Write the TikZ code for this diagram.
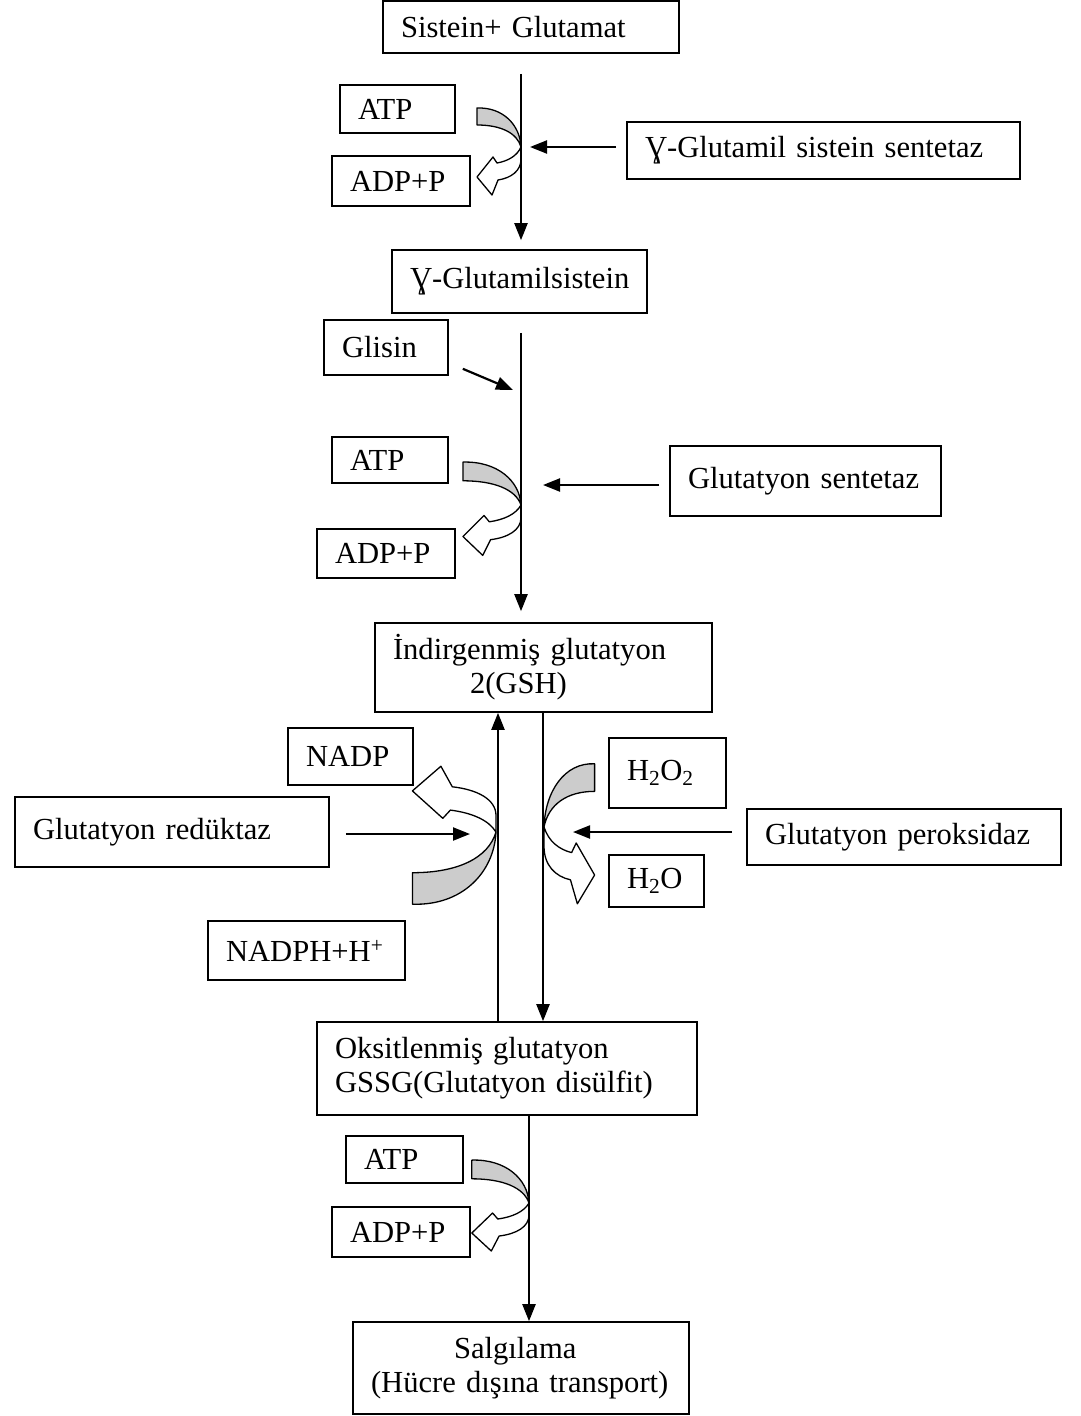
\documentclass[tikz,border=0pt]{standalone}
\usepackage{fontspec}
\setmainfont{Liberation Serif}
\usepackage{tikz}
\usetikzlibrary{arrows.meta}
\exhyphenpenalty=10000

\tikzset{
  pics/turn/.style 2 args={code={
    \filldraw[ribbon,yscale=#1] (-44,-39) .. controls (-18,-40) and (-1,-22) .. (0,0)
      .. controls (-4,-14) and (-20,-22) .. (-44,-22) -- cycle;
    \filldraw[ribbon,fill=white,yscale=#2] (0,0) .. controls (-4,9) and (-13,14) .. (-24,16)
      -- (-28,10) -- (-44,30) -- (-29,48) -- (-23,33)
      .. controls (-10,31) and (0,24) .. (0,12) -- cycle;
  }}
}

\begin{document}
\begin{tikzpicture}[x=1pt,y=-1pt,
  font=\fontsize{30.6}{34}\selectfont,
  box/.style={draw,line width=1.6pt,inner xsep=18pt,inner ysep=0pt,align=left},
  flow/.style={line width=2.2pt,-{Triangle[length=17pt,width=13pt]}},
  ribbon/.style={draw,line width=1.3pt,fill=gray!40,line join=round}]
\useasboundingbox (0,0) rectangle (1081,1416);

% ---- first step ----
\node[box,text width=260pt,minimum height=52pt] (sis) at (531,27) {Sistein+ Glutamat};
\node[box,text width=79pt,minimum height=48pt] (atpA) at (397.5,109) {ATP};
\node[box,text width=102pt,minimum height=50pt] (adpA) at (401,181) {ADP+P};
\node[box,text width=357pt,minimum height=57pt] (gcs) at (823.5,150.5) {Ɣ-Glutamil sistein sentetaz};
\node[box,text width=219pt,minimum height=63pt] (gcys) at (519.5,281.5) {Ɣ-Glutamilsistein};

% ---- second step ----
\node[box,text width=88pt,minimum height=55pt] (gly) at (386,347.5) {Glisin};
\node[box,text width=80pt,minimum height=46pt] (atpB) at (390,460) {ATP};
\node[box,text width=102pt,minimum height=49pt] (adpB) at (386,553.5) {ADP+P};
\node[box,text width=235pt,minimum height=70pt] (gs) at (805.5,481) {Glutatyon sentetaz};
\node[box,text width=301pt,minimum height=89pt] (gsh) at (543.5,667.5)
  {İndirgenmiş glutatyon\\\hspace*{77pt}2(GSH)};

% ---- redox cycle ----
\node[box,text width=89pt,minimum height=57pt] (nadp) at (350.5,756.5) {NADP};
\node[box,text width=278pt,minimum height=70pt] (gr) at (172,832) {Glutatyon redüktaz};
\node[box,text width=161pt,minimum height=59pt] (nadph) at (306.5,950.5) {NADPH+H\textsuperscript{+}};
\node[box,text width=81pt,minimum height=70pt] (hoo) at (667.5,773) {H\textsubscript{2}O\textsubscript{2}};
\node[box,text width=278pt,minimum height=56pt] (gpx) at (904,837) {Glutatyon peroksidaz};
\node[box,text width=59pt,minimum height=52pt] (ho) at (656.5,881) {H\textsubscript{2}O};
\node[box,text width=344pt,minimum height=93pt] (gssg) at (507,1068.5)
  {Oksitlenmiş glutatyon\\GSSG(Glutatyon disülfit)};

% ---- transport ----
\node[box,text width=81pt,minimum height=47pt] (atpC) at (404.5,1159.5) {ATP};
\node[box,text width=102pt,minimum height=50pt] (adpC) at (401,1232) {ADP+P};
\node[box,text width=300pt,minimum height=92pt] (out) at (521,1368)
  {\hspace*{83pt}Salgılama\\(Hücre dışına transport)};

% points where side arrows meet the main line
\coordinate (k1) at (530,147);
\coordinate (k2) at (513,390);
\coordinate (k3) at (543,485);
\coordinate (k4) at (470,834);
\coordinate (k5) at (573,832);

% turning ribbons
\pic at (521,147) {turn={1}{1}};
\pic[xscale=1.32] at (521,505) {turn={1.1}{1.05}};
\pic[xscale=1.9] at (496,832) {turn={-1.85}{-1.37}};
\pic[xscale=-1.15] at (544,827) {turn={1.62}{1.6}};
\pic[xscale=1.3] at (529,1203) {turn={1.1}{1.0}};

% main line
\draw[flow] ([shift={(-10,20)}]sis.south) -- ([shift={(1.5,-9)}]gcys.north);
\draw[flow] ([shift={(1.5,19)}]gcys.south) -- ([shift={(-22.5,-11)}]gsh.north);
\draw[flow] ([shift={(-0.5,0)}]gsh.south) -- ([shift={(36,0)}]gssg.north);
\draw[flow] ([shift={(-9,0)}]gssg.north) -- ([shift={(-45.5,0)}]gsh.south);
\draw[flow] ([shift={(22,0)}]gssg.south) -- ([shift={(8,0)}]out.north);

% enzymes and glycine
\draw[flow] ([shift={(-10,-3.5)}]gcs.west) -- (k1);
\draw[flow] ([shift={(14,-7)}]gly.south east) -- (k2);
\draw[flow] ([shift={(-10,4)}]gs.west) -- (k3);
\draw[flow] ([shift={(16,2)}]gr.east) -- (k4);
\draw[flow] ([shift={(-14,-5)}]gpx.west) -- (k5);
\end{tikzpicture}
\end{document}
